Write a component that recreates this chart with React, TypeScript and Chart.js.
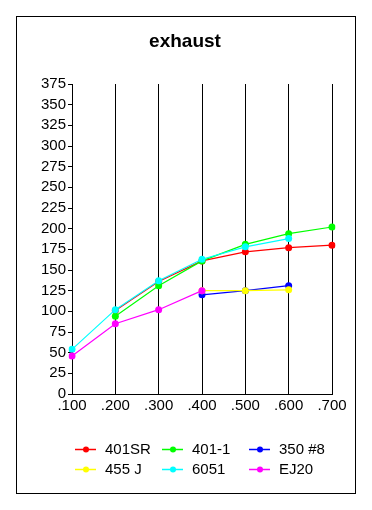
import React, { useEffect, useRef } from "react";
import { Chart, registerables } from "chart.js";

Chart.register(...registerables);

const TITLE = "exhaust";
const categories = [".100", ".200", ".300", ".400", ".500", ".600", ".700"];
const seriesNames = ["401SR", "401-1", "350 #8", "455 J", "6051", "EJ20"];
const seriesColors = ["#ff0000", "#00ff00", "#0000ff", "#ffff00", "#00ffff", "#ff00ff"];
const s401SR = [null, 101, 136, 161, 172, 177, 180];
const s401_1 = [null, 94, 131, 161, 181, 194, 202];
const s350_8 = [null, null, null, 120, 125, 131, null];
const s455J = [null, null, null, 125, 125, 126, null];
const s6051 = [54, 102, 137, 163, 178, 188, null];
const sEJ20 = [46, 85, 102, 125, null, null, null];
const seriesValues = [s401SR, s401_1, s350_8, s455J, s6051, sEJ20];
const yMin = 0;
const yMax = 375;
const yStep = 25;

const FONT = "Arial, 'Liberation Sans', sans-serif";

const framePlugin = {
  id: "framePlugin",
  afterDraw(chart: any) {
    const ctx = chart.ctx;
    ctx.save();
    ctx.strokeStyle = "#000";
    ctx.lineWidth = 1;
    ctx.strokeRect(16.5, 16.5, 339, 477);
    ctx.fillStyle = "#000";
    ctx.font = `bold 19px ${FONT}`;
    ctx.textAlign = "center";
    ctx.textBaseline = "alphabetic";
    ctx.fillText(TITLE, 185, 47);
    const colX = [75, 162, 249];
    const rowY = [449, 469];
    ctx.font = `15px ${FONT}`;
    ctx.textAlign = "left";
    ctx.textBaseline = "middle";
    chart.data.datasets.forEach((ds: any, i: number) => {
      const x = colX[i % 3];
      const y = rowY[Math.floor(i / 3)];
      ctx.strokeStyle = ds.borderColor;
      ctx.lineWidth = 1.5;
      ctx.beginPath();
      ctx.moveTo(x, y + 0.5);
      ctx.lineTo(x + 21, y + 0.5);
      ctx.stroke();
      ctx.fillStyle = ds.borderColor;
      ctx.beginPath();
      ctx.arc(x + 11, y + 0.5, 3, 0, Math.PI * 2);
      ctx.fill();
      ctx.fillStyle = "#000";
      ctx.fillText(ds.label, x + 30, y + 1);
    });
    ctx.restore();
  },
};

export default function App() {
  const ref = useRef<HTMLCanvasElement | null>(null);
  useEffect(() => {
    if (!ref.current) return;
    const chart = new Chart(ref.current, {
      type: "line",
      data: {
        labels: categories,
        datasets: seriesNames.map((name, i) => ({
          label: name,
          data: seriesValues[i],
          borderColor: seriesColors[i],
          backgroundColor: seriesColors[i],
          borderWidth: 1.2,
          pointRadius: 3.5,
          pointBorderWidth: 0,
          pointHoverRadius: 3.5,
          tension: 0,
          spanGaps: false,
          fill: false,
          order: seriesNames.length - i,
        })),
      },
      options: {
        animation: false,
        responsive: false,
        maintainAspectRatio: false,
        layout: { padding: { left: 0, top: 84, right: 40, bottom: 0 } },
        plugins: {
          legend: { display: false },
          title: { display: false },
          tooltip: { enabled: false },
        },
        scales: {
          x: {
            type: "category",
            offset: false,
            grid: { display: true, color: "#000", drawTicks: false, drawOnChartArea: true, lineWidth: 1 },
            border: { display: true, color: "#000" },
            ticks: { color: "#000", font: { family: FONT, size: 15 }, padding: 3, maxRotation: 0, autoSkip: false },
            afterFit: (s: any) => { s.height = 116; },
          },
          y: {
            min: yMin,
            max: yMax,
            grid: { display: true, drawOnChartArea: false, drawTicks: true, tickLength: 4, color: "#000" },
            border: { display: true, color: "#000" },
            ticks: { stepSize: yStep, color: "#000", font: { family: FONT, size: 15 }, padding: 2, autoSkip: false },
            afterFit: (s: any) => { s.width = 72; },
          },
        },
      },
      plugins: [framePlugin],
    });
    return () => chart.destroy();
  }, []);
  return (
    <div style={{ position: "absolute", left: 0, top: 0, width: 372, height: 510, background: "#fff" }}>
      <canvas ref={ref} width={372} height={510} style={{ display: "block", width: 372, height: 510 }} />
    </div>
  );
}
